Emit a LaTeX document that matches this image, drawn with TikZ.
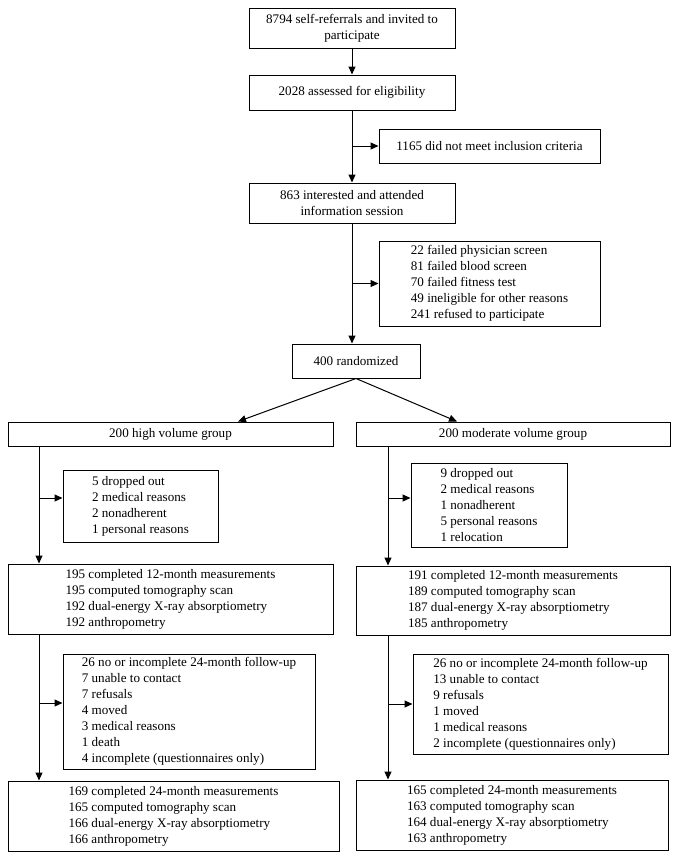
\documentclass[tikz,border=0pt]{standalone}
\usepackage{fontspec}
\setmainfont{Liberation Serif}
\usetikzlibrary{arrows.meta}
\begin{document}
\begin{tikzpicture}[x=1pt,y=-1pt,
  box/.style={draw, line width=1pt, align=left, inner sep=0pt,
    font=\fontsize{13.1}{16}\selectfont},
  cbox/.style={box, align=center},
  arr/.style={line width=1pt, -{Triangle[length=8pt,width=7pt]}}]
\useasboundingbox (0,0) rectangle (678,860);
\coordinate (cL) at (39,0);
\coordinate (cR) at (388,0);
% top column
\node[cbox, minimum width=206pt, minimum height=40pt] (b1) at (352,28) {8794 self-referrals and invited to\\participate};
\node[cbox, minimum width=206pt, minimum height=35pt] (b2) at (352,92.5) {2028 assessed for eligibility};
\node[cbox, minimum width=221pt, minimum height=34pt] (e1) at (489.5,146) {1165 did not meet inclusion criteria};
\node[cbox, minimum width=206pt, minimum height=40pt] (b3) at (352,203) {863 interested and attended\\information session};
\node[box, minimum width=221pt, minimum height=85pt] (e2) at (489.5,283.5) {22 failed physician screen\\81 failed blood screen\\70 failed fitness test\\49 ineligible for other reasons\\241 refused to participate};
\node[cbox, minimum width=128pt, minimum height=34pt] (r) at (356,361) {400 randomized};
% groups
\node[cbox, minimum width=325pt, minimum height=24pt] (hL) at (170.5,434) {200 high volume group};
\node[cbox, minimum width=314pt, minimum height=24pt] (hR) at (513,434) {200 moderate volume group};
\node[box, minimum width=155pt, minimum height=72pt] (dL) at (140.5,506) {5 dropped out\\2 medical reasons\\2 nonadherent\\1 personal reasons};
\node[box, minimum width=156pt, minimum height=84pt] (dR) at (489,505) {9 dropped out\\2 medical reasons\\1 nonadherent\\5 personal reasons\\1 relocation};
\node[box, minimum width=325pt, minimum height=70pt] (mL) at (170.5,599) {195 completed 12-month measurements\\195 computed tomography scan\\192 dual-energy X-ray absorptiometry\\192 anthropometry};
\node[box, minimum width=314pt, minimum height=69pt] (mR) at (513,600.5) {191 completed 12-month measurements\\189 computed tomography scan\\187 dual-energy X-ray absorptiometry\\185 anthropometry};
\node[box, minimum width=252pt, minimum height=115pt] (fL) at (189,711.5) {26 no or incomplete 24-month follow-up\\7 unable to contact\\7 refusals\\4 moved\\3 medical reasons\\1 death\\4 incomplete (questionnaires only)};
\node[box, minimum width=255pt, minimum height=100pt] (fR) at (540.5,704) {26 no or incomplete 24-month follow-up\\13 unable to contact\\9 refusals\\1 moved\\1 medical reasons\\2 incomplete (questionnaires only)};
\node[box, minimum width=331pt, minimum height=70pt] (tL) at (173.5,816) {169 completed 24-month measurements\\165 computed tomography scan\\166 dual-energy X-ray absorptiometry\\166 anthropometry};
\node[box, minimum width=312pt, minimum height=70pt] (tR) at (512,815) {165 completed 24-month measurements\\163 computed tomography scan\\164 dual-energy X-ray absorptiometry\\163 anthropometry};
% connectors top
\draw[arr] (b1.south) -- (b2.north);
\draw[arr] (b2.south) -- (b3.north);
\draw[arr] (b2.south |- e1.west) -- (e1.west);
\draw[arr] (b3.south) -- (b3.south |- r.north);
\draw[arr] (b3.south |- e2.west) -- (e2.west);
\draw[arr] (r.south) -- ([xshift=67.5pt]hL.north);
\draw[arr] (r.south) -- ([xshift=-56pt]hR.north);
% left column
\draw[arr] (hL.south -| cL) -- (mL.north -| cL);
\draw[arr] ([yshift=8pt]dL.west -| cL) -- ([yshift=8pt]dL.west);
\draw[arr] (mL.south -| cL) -- (tL.north -| cL);
\draw[arr] ([yshift=8.5pt]fL.west -| cL) -- ([yshift=8.5pt]fL.west);
% right column
\draw[arr] (hR.south -| cR) -- (mR.north -| cR);
\draw[arr] ([yshift=7pt]dR.west -| cR) -- ([yshift=7pt]dR.west);
\draw[arr] (mR.south -| cR) -- (tR.north -| cR);
\draw[arr] (fR.west -| cR) -- (fR.west);
\end{tikzpicture}
\end{document}
